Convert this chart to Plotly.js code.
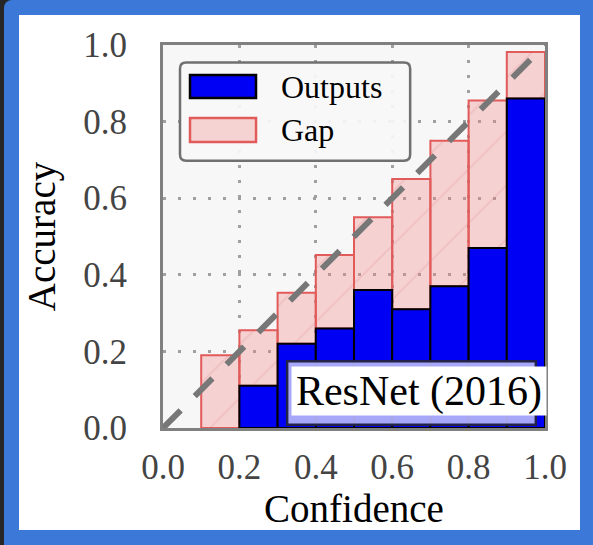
<!DOCTYPE html>
<html>
<head>
<meta charset="utf-8">
<script src="https://cdn.plot.ly/plotly-3.0.1.min.js"></script>
<style>
  html, body { margin: 0; padding: 0; width: 593px; height: 545px; overflow: hidden; background: #262626; }
  #frame { position: absolute; left: 4px; top: 0; width: 589px; height: 545px; background: #3b78d8; border-top-left-radius: 8px; }
  #sheet { position: absolute; left: 19px; top: 15px; width: 561px; height: 515px; background: #ffffff; }
  #chart { position: absolute; left: 0; top: 0; width: 593px; height: 545px; }
</style>
</head>
<body>
<div id="frame"></div>
<div id="sheet"></div>
<div id="chart"></div>
<script>
// Reliability diagram: per-bin accuracy vs. mean confidence
const binCenters = [0.05, 0.15, 0.25, 0.35, 0.45, 0.55, 0.65, 0.75, 0.85, 0.95];
const accuracy   = [null, 0.0, 0.11, 0.22, 0.26, 0.36, 0.31, 0.37, 0.47, 0.86];
const confidence = [null, 0.19, 0.255, 0.353, 0.452, 0.55, 0.65, 0.75, 0.855, 0.982];
const diagonalX = [0, 1];
const diagonalY = [0, 1];
const tickValues = [0, 0.2, 0.4, 0.6, 0.8, 1.0];
const tickLabels = ['0.0', '0.2', '0.4', '0.6', '0.8', '1.0'];
const seriesNames = ['Outputs', 'Gap'];
const modelLabel = 'ResNet (2016)';

const SERIF = 'Liberation Serif, Times New Roman, serif';
const BLUE = '#0000f5';
const GAP_FILL = 'rgba(240,128,128,0.32)';
const GAP_EDGE = '#e25b5b';

const gapHeight = confidence.map((c, i) => (c == null ? null : c - (accuracy[i] || 0)));
const gapBase = accuracy.map(a => (a == null ? null : a));

const outputs = {
  type: 'bar', x: binCenters, y: accuracy, width: 0.1, name: seriesNames[0],
  marker: { color: BLUE, line: { color: '#000000', width: accuracy.map(a => (a ? 2 : 0)) } },
  showlegend: false, hoverinfo: 'skip'
};
const gap = {
  type: 'bar', x: binCenters, y: gapHeight, base: gapBase, width: 0.1, name: seriesNames[1],
  marker: {
    color: GAP_FILL,
    line: { color: GAP_EDGE, width: 2 },
    pattern: { shape: '/', size: 38, solidity: 0.035, fgcolor: 'rgba(220,110,110,0.45)', bgcolor: GAP_FILL, fillmode: 'overlay' }
  },
  showlegend: false, hoverinfo: 'skip'
};
const diagonal = {
  type: 'scatter', mode: 'lines', x: diagonalX, y: diagonalY,
  line: { color: '#777777', width: 6, dash: '25px,20px' },
  showlegend: false, hoverinfo: 'skip'
};

// Legend box with rounded corners (paper coordinates of the plot area)
function roundedBox(x0, y0, x1, y1, rx, ry) {
  return `M${x0 + rx},${y0} L${x1 - rx},${y0} Q${x1},${y0} ${x1},${y0 + ry} ` +
         `L${x1},${y1 - ry} Q${x1},${y1} ${x1 - rx},${y1} L${x0 + rx},${y1} ` +
         `Q${x0},${y1} ${x0},${y1 - ry} L${x0},${y0 + ry} Q${x0},${y0} ${x0 + rx},${y0} Z`;
}

const shapes = [
  { type: 'path', xref: 'paper', yref: 'paper', layer: 'above',
    path: roundedBox(0.0445, 0.698, 0.647, 0.954, 0.016, 0.016),
    fillcolor: 'rgba(247,247,247,0.92)', line: { color: '#707070', width: 2.5 } },
  { type: 'rect', xref: 'paper', yref: 'paper', layer: 'above',
    x0: 0.0707, x1: 0.2435, y0: 0.8616, y1: 0.9217,
    fillcolor: BLUE, line: { color: '#000000', width: 2.5 } },
  { type: 'rect', xref: 'paper', yref: 'paper', layer: 'above',
    x0: 0.0707, x1: 0.2435, y0: 0.7467, y1: 0.8094,
    fillcolor: '#f6d3d3', line: { color: GAP_EDGE, width: 2.5 } },
  // label panel behind the model name
  { type: 'rect', xref: 'paper', yref: 'paper', layer: 'above',
    x0: 0.325, x1: 0.976, y0: 0.0086, y1: 0.174,
    fillcolor: 'rgba(180,180,250,0.93)', line: { color: '#23234a', width: 2.5 } }
];

const annotations = [
  { xref: 'paper', yref: 'paper', x: 0.3037, y: 0.890, xanchor: 'left', yanchor: 'middle',
    text: seriesNames[0], showarrow: false, font: { family: SERIF, size: 32, color: '#000' } },
  { xref: 'paper', yref: 'paper', x: 0.3037, y: 0.778, xanchor: 'left', yanchor: 'middle',
    text: seriesNames[1], showarrow: false, font: { family: SERIF, size: 32, color: '#000' } },
  { xref: 'paper', yref: 'paper', x: 0.670, y: 0.097, xanchor: 'center', yanchor: 'middle',
    text: modelLabel, showarrow: false, bgcolor: '#ffffff', width: 252, height: 46,
    font: { family: SERIF, size: 42, color: '#000' } }
];

const axisCommon = {
  range: [0, 1], tickvals: tickValues, ticktext: tickLabels,
  showgrid: true, gridcolor: '#a0a0a0', gridwidth: 3, griddash: '3px,12px',
  zeroline: false, showline: true, mirror: true, linecolor: '#808080', linewidth: 3,
  ticks: '', tickfont: { family: SERIF, size: 35, color: '#444444' },
  fixedrange: true
};

const layout = {
  width: 593, height: 545,
  margin: { l: 163, r: 48, t: 45, b: 117, pad: 0 },
  paper_bgcolor: 'rgba(0,0,0,0)', plot_bgcolor: '#f7f7f7',
  barmode: 'overlay', bargap: 0, showlegend: false,
  xaxis: Object.assign({}, axisCommon, {
    ticklabelstandoff: 6,
    title: { text: 'Confidence', font: { family: SERIF, size: 39, color: '#000' }, standoff: 9 }
  }),
  yaxis: Object.assign({}, axisCommon, {
    ticklabelstandoff: 26,
    title: { text: 'Accuracy', font: { family: SERIF, size: 39, color: '#000' }, standoff: 16 }
  }),
  shapes: shapes,
  annotations: annotations
};

Plotly.newPlot('chart', [gap, outputs, diagonal], layout, { staticPlot: true, displayModeBar: false });
</script>
</body>
</html>
